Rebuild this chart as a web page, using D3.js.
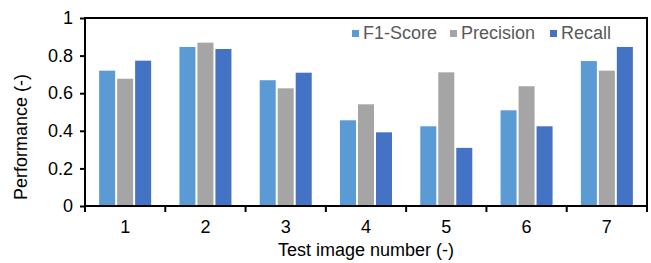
<!DOCTYPE html>
<html>
<head>
<meta charset="utf-8">
<script src="https://cdn.jsdelivr.net/npm/d3@7"></script>
<style>
  body { margin: 0; background: #fff; }
  text { font-family: "Liberation Sans", Arial, sans-serif; }
</style>
</head>
<body>
<svg width="651" height="263"></svg>
<script>
// data
var images = ["1", "2", "3", "4", "5", "6", "7"];
var seriesNames = ["F1-Score", "Precision", "Recall"];
var f1Score   = [0.72, 0.846, 0.669, 0.456, 0.424, 0.509, 0.771];
var precision = [0.677, 0.869, 0.626, 0.541, 0.711, 0.637, 0.72];
var recall    = [0.773, 0.835, 0.709, 0.392, 0.309, 0.424, 0.846];
var yTicks = [0, 0.2, 0.4, 0.6, 0.8, 1];
var colors = ["#5B9BD5", "#A5A5A5", "#4472C4"];

var drawChart = function()
{
  var screen = {width: 651, height: 263};
  var margins = {top: 18, bottom: 57, left: 85, right: 4};
  var width = screen.width - margins.left - margins.right;
  var height = screen.height - margins.top - margins.bottom;
  var fs = 18;

  var svg = d3.select('svg');

  var xScale = d3.scaleBand()
                 .domain(images)
                 .range([0, width]);
  var xInner = d3.scaleBand()
                 .domain(seriesNames)
                 .range([-26, 26])
                 .paddingInner(0.11);
  var yScale = d3.scaleLinear()
                 .domain([0, 1])
                 .range([height, 0]);

  var plotLand = svg.append('g')
                    .attr('transform', 'translate(' + margins.left + ',' + margins.top + ')');

  // bars
  var table = images.map(function(d, i) {
    return [f1Score[i], precision[i], recall[i]].map(function(v, j) {
      return {image: d, series: seriesNames[j], value: v, color: colors[j]};
    });
  });

  plotLand.selectAll('g.group')
    .data(table)
    .enter().append('g')
    .attr('class', 'group')
    .attr('transform', function(d) { return 'translate(' + (xScale(d[0].image) + xScale.bandwidth() / 2) + ',0)'; })
    .selectAll('rect')
    .data(function(d) { return d; })
    .enter().append('rect')
    .attr('x', function(d) { return xInner(d.series); })
    .attr('width', xInner.bandwidth())
    .attr('y', function(d) { return yScale(d.value); })
    .attr('height', function(d) { return height - yScale(d.value); })
    .attr('fill', function(d) { return d.color; });

  // frame
  plotLand.append('rect')
    .attr('x', 0).attr('y', 0)
    .attr('width', width).attr('height', height)
    .attr('fill', 'none')
    .attr('stroke', '#000')
    .attr('stroke-width', 2);

  // y axis
  var yAxis = d3.axisLeft(yScale)
                .tickValues(yTicks)
                .tickFormat(function(d) { return d; })
                .tickSize(5)
                .tickPadding(7);
  var yG = plotLand.append('g').call(yAxis);
  yG.select('.domain').remove();
  yG.selectAll('line').attr('stroke', '#000').attr('stroke-width', 2);
  yG.selectAll('text').attr('font-size', fs).attr('fill', '#000')
    .attr('font-family', '"Liberation Sans", Arial, sans-serif');

  // x axis: ticks at category boundaries
  var xG = plotLand.append('g').attr('transform', 'translate(0,' + height + ')');
  xG.selectAll('line')
    .data(images.concat(['end']))
    .enter().append('line')
    .attr('x1', function(d, i) { return i * xScale.step(); })
    .attr('x2', function(d, i) { return i * xScale.step(); })
    .attr('y1', 0).attr('y2', 6)
    .attr('stroke', '#000').attr('stroke-width', 2);
  xG.selectAll('text')
    .data(images)
    .enter().append('text')
    .attr('x', function(d) { return xScale(d) + xScale.bandwidth() / 2; })
    .attr('y', 27)
    .attr('text-anchor', 'middle')
    .attr('font-size', fs)
    .text(function(d) { return d; });

  // axis titles
  svg.append('text')
    .attr('x', 366).attr('y', 256)
    .attr('text-anchor', 'middle')
    .attr('font-size', fs)
    .text('Test image number (-)');
  svg.append('text')
    .attr('transform', 'translate(27,137) rotate(-90)')
    .attr('text-anchor', 'middle')
    .attr('font-size', fs)
    .text('Performance (-)');

  // legend
  var legendX = [352, 450, 550];
  var legend = svg.append('g');
  seriesNames.forEach(function(name, i) {
    legend.append('rect')
      .attr('x', legendX[i]).attr('y', 30)
      .attr('width', 7).attr('height', 7)
      .attr('fill', colors[i]);
    legend.append('text')
      .attr('x', legendX[i] + 11).attr('y', 38.5)
      .attr('font-size', fs)
      .attr('fill', '#595959')
      .text(name);
  });
}

drawChart();
</script>
</body>
</html>
